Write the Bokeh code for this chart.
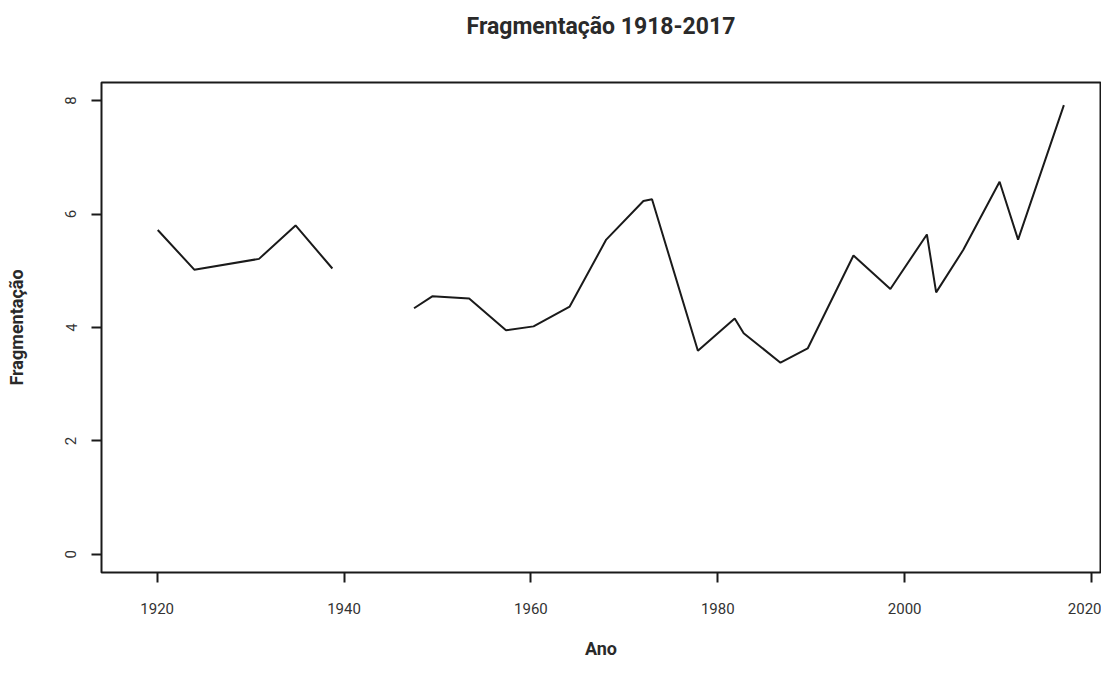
import math
from bokeh.plotting import figure
from bokeh.models import Range1d, FixedTicker, LinearAxis
from bokeh.embed import file_html
from bokeh.resources import INLINE

# Data; NaN marks the gap in the series
anos = [1920.06, 1923.97, 1930.90, 1934.81, 1938.75, 1943.00,
        1947.49, 1949.44, 1953.39, 1957.33, 1960.28, 1964.15, 1968.06,
        1972.04, 1972.96, 1977.87, 1981.81, 1982.77, 1986.71, 1989.62,
        1994.52, 1998.47, 2002.38, 2003.37, 2006.28, 2010.16, 2012.14,
        2017.04]
fragmentacao = [5.72, 5.02, 5.21, 5.80, 5.04, float("nan"),
                4.34, 4.55, 4.51, 3.95, 4.02, 4.37, 5.55,
                6.23, 6.26, 3.59, 4.16, 3.90, 3.38, 3.63,
                5.27, 4.68, 5.64, 4.62, 5.37, 6.57, 5.55,
                7.92]

x_ticks = [1920, 1940, 1960, 1980, 2000, 2020]
y_ticks = [0, 2, 4, 6, 8]

titulo = "Fragmentação 1918-2017"
x_label = "Ano"
y_label = "Fragmentação"

# R-style 4% axis expansion around the data / ylim
x0, x1 = 1918, 2017
xpad = (x1 - x0) * 0.04
y0, y1 = 0, 8
ypad = (y1 - y0) * 0.04

TXT = "#2a2a2a"
FONT = "Roboto"

p = figure(width=1101, height=661, output_backend="svg", toolbar_location=None,
           x_range=Range1d(x0 - xpad, x1 + xpad),
           y_range=Range1d(y0 - ypad, y1 + ypad),
           min_border_left=101, min_border_right=1,
           min_border_top=82, min_border_bottom=88)
p.title.visible = False

p.line(anos, fragmentacao, line_color="#1a1a1a", line_width=2)

p.grid.visible = False
p.background_fill_color = "white"
p.border_fill_color = "white"
p.outline_line_color = "#1a1a1a"
p.outline_line_width = 2
p.outline_line_alpha = 1.0

for ax in (p.xaxis[0], p.yaxis[0]):
    ax.axis_line_color = None
    ax.major_tick_line_color = "#1a1a1a"
    ax.major_tick_line_width = 2
    ax.major_tick_out = 10
    ax.major_tick_in = 0
    ax.minor_tick_line_color = None
    ax.major_label_text_font = FONT
    ax.major_label_text_font_size = "15px"
    ax.major_label_text_color = "#333333"
    ax.axis_label_text_font = FONT
    ax.axis_label_text_font_style = "bold"
    ax.axis_label_text_font_size = "18px"
    ax.axis_label_text_color = TXT

p.xaxis[0].ticker = FixedTicker(ticks=x_ticks)
p.yaxis[0].ticker = FixedTicker(ticks=y_ticks)
p.xaxis[0].axis_label = x_label
p.yaxis[0].axis_label = y_label
p.xaxis[0].major_label_standoff = 20
p.xaxis[0].axis_label_standoff = 21
p.yaxis[0].major_label_orientation = "vertical"
p.yaxis[0].major_label_standoff = 15
p.yaxis[0].axis_label_standoff = 36

# Title drawn as the label of a tick-less axis above the frame
top_axis = LinearAxis(ticker=FixedTicker(ticks=[]), axis_label=titulo)
top_axis.axis_line_color = None
top_axis.major_tick_line_color = None
top_axis.minor_tick_line_color = None
top_axis.major_tick_out = 0
top_axis.minor_tick_out = 0
top_axis.major_label_standoff = 0
top_axis.axis_label_standoff = 43
top_axis.axis_label_text_font = FONT
top_axis.axis_label_text_font_style = "bold"
top_axis.axis_label_text_font_size = "23px"
top_axis.axis_label_text_color = TXT
p.add_layout(top_axis, "above")

open("out.html", "w").write(file_html(p, INLINE))
